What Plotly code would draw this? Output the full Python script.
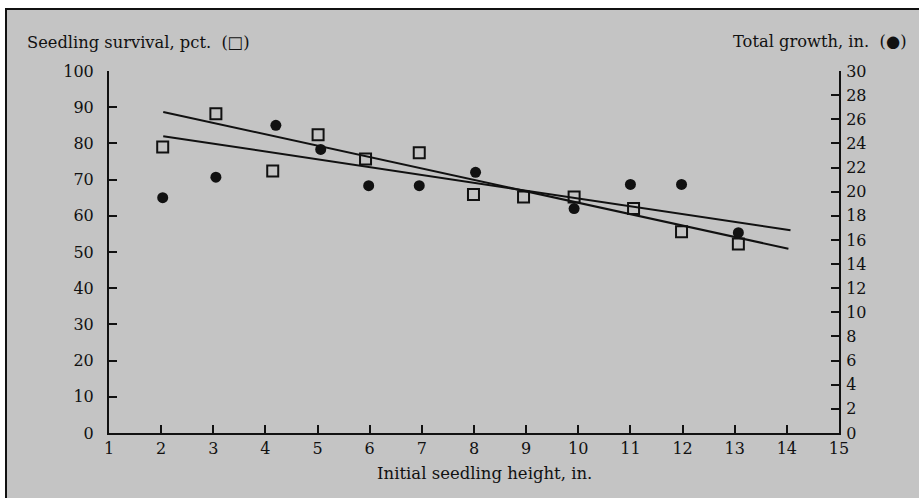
import plotly.graph_objects as go

# Seedling survival (%) vs initial height (in.)  -- hollow squares, left axis
survival_x = [2.03, 3.05, 4.14, 5.01, 5.92, 6.95, 7.99, 8.95, 9.92, 11.06, 11.98, 13.07]
survival_y = [79.0, 88.2, 72.4, 82.4, 75.7, 77.4, 65.9, 65.2, 65.2, 62.0, 55.6, 52.2]

# Total growth (in.) vs initial height -- filled circles, right axis
growth_x = [2.03, 3.05, 4.20, 5.06, 5.98, 6.95, 8.03, 9.92, 11.00, 11.98, 13.07]
growth_y = [19.5, 21.2, 25.5, 23.5, 20.5, 20.5, 21.6, 18.6, 20.6, 20.6, 16.6]

# Fitted trend lines (end points)
survival_fit_x = [2.04, 14.03]
survival_fit_y = [88.7, 50.9]
growth_fit_x = [2.04, 14.07]
growth_fit_y = [24.6, 16.8]

x_ticks = list(range(1, 16))
left_ticks = list(range(0, 101, 10))
right_ticks = list(range(0, 31, 2))

W, H = 919, 498
L, R, T, B = 109, 80, 71, 65
PW, PH = W - L - R, H - T - B

def px(xp):
    return (xp - L) / PW

def py(yp):
    return (H - B - yp) / PH

FONT = "DejaVu Serif"
INK = "#111111"
BG = "#c4c4c4"

fig = go.Figure()

fig.add_trace(go.Scatter(x=survival_fit_x, y=survival_fit_y, mode="lines",
                         line=dict(color=INK, width=2), showlegend=False, hoverinfo="skip"))
fig.add_trace(go.Scatter(x=growth_fit_x, y=growth_fit_y, mode="lines", yaxis="y2",
                         line=dict(color=INK, width=2), showlegend=False, hoverinfo="skip"))
fig.add_trace(go.Scatter(x=survival_x, y=survival_y, mode="markers",
                         marker=dict(symbol="square-open", size=11, color=INK,
                                     line=dict(width=2, color=INK)),
                         showlegend=False, name="Seedling survival"))
fig.add_trace(go.Scatter(x=growth_x, y=growth_y, mode="markers", yaxis="y2",
                         marker=dict(symbol="circle", size=11, color=INK),
                         showlegend=False, name="Total growth"))

axis_common = dict(showgrid=False, zeroline=False, showline=True, linecolor=INK,
                   linewidth=2, ticks="inside", ticklen=8, tickwidth=2, tickcolor=INK,
                   tickfont=dict(family=FONT, size=16, color=INK))

fig.update_layout(
    width=W, height=H,
    margin=dict(l=L, r=R, t=T, b=B),
    paper_bgcolor=BG,
    plot_bgcolor="rgba(0,0,0,0)",
    xaxis=dict(range=[1, 15], tickvals=x_ticks, ticktext=[str(v) for v in x_ticks],
               **axis_common),
    yaxis=dict(range=[0, 100], tickvals=left_ticks, ticktext=[str(v) for v in left_ticks],
               ticklabelstandoff=10, **axis_common),
    yaxis2=dict(range=[0, 30], tickvals=right_ticks, ticktext=[str(v) for v in right_ticks],
                overlaying="y", side="right", ticklabelstandoff=2, **axis_common),
    shapes=[
        dict(type="rect", xref="paper", yref="paper",
             x0=px(0), x1=px(W), y0=py(8), y1=py(0),
             fillcolor="white", line=dict(width=0), layer="below"),
        dict(type="rect", xref="paper", yref="paper",
             x0=px(0), x1=px(5), y0=py(H), y1=py(0),
             fillcolor="white", line=dict(width=0), layer="below"),
        dict(type="line", xref="paper", yref="paper",
             x0=px(5), x1=px(W), y0=py(9), y1=py(9),
             line=dict(color=INK, width=2), layer="below"),
        dict(type="line", xref="paper", yref="paper",
             x0=px(6), x1=px(6), y0=py(H), y1=py(8),
             line=dict(color=INK, width=2), layer="below"),
    ],
    annotations=[
        dict(text="Seedling survival, pct.  (\u25a1)", xref="paper", yref="paper",
             x=px(25), y=py(42), xanchor="left", yanchor="middle", showarrow=False,
             font=dict(family=FONT, size=16.3, color=INK)),
        dict(text="Total growth, in.  (\u25cf)", xref="paper", yref="paper",
             x=px(908), y=py(41), xanchor="right", yanchor="middle", showarrow=False,
             font=dict(family=FONT, size=16.3, color=INK)),
        dict(text="Initial seedling height, in.", xref="paper", yref="paper",
             x=px(484), y=py(473), xanchor="center", yanchor="middle", showarrow=False,
             font=dict(family=FONT, size=16.5, color=INK)),
    ],
)

fig.write_html("out.html", config={"displayModeBar": False},
               post_script="document.body.style.margin='0px';"
                           "document.body.style.overflow='hidden';")
